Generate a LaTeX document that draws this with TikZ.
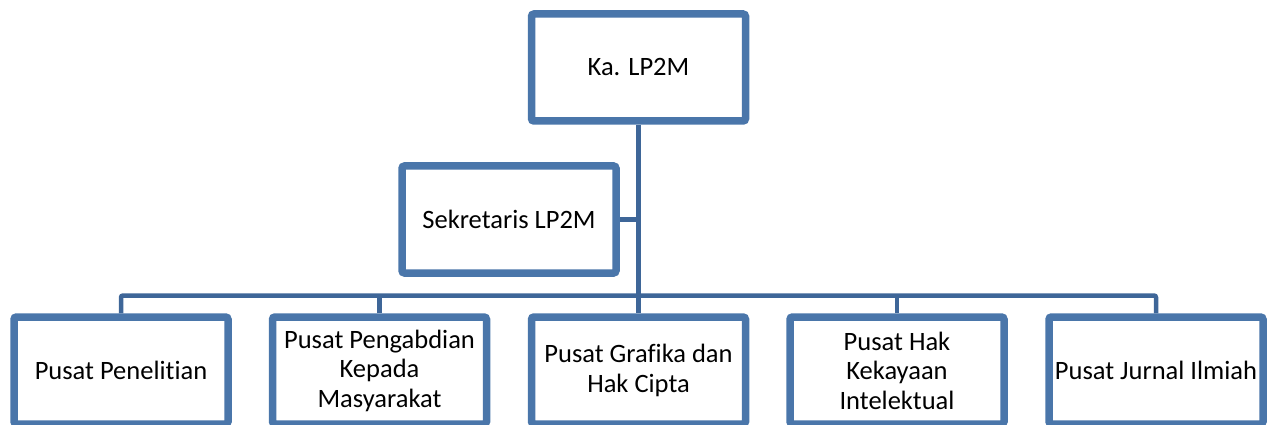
\documentclass[tikz,border=0pt]{standalone}
\usepackage{fontspec}
\setmainfont{Carlito}[Ligatures=NoCommon]
\usetikzlibrary{shadows,backgrounds}
\definecolor{boxblue}{RGB}{74,118,170}
\definecolor{linkblue}{RGB}{62,102,152}
\begin{document}
\begin{tikzpicture}[x=1pt,y=-1pt,
  orgbox/.style={draw=boxblue, line width=7.5pt, fill=white, rounded corners=2.5pt,
    minimum width=214pt, minimum height=107pt, inner sep=0pt, align=center,
    font=\fontsize{26.5}{29.5}\selectfont,
    drop shadow={shadow xshift=2pt, shadow yshift=-2.5pt, opacity=0.22, fill=black}},
  link/.style={draw=linkblue, line width=4.5pt}]
\useasboundingbox (0,0) rectangle (1267,425);
\clip (0,0) rectangle (1267,425);
\node[orgbox] (ka) at (638.5,67.5) {Ka. LP2M};
\node[orgbox] (sek) at (509,219.5) {Sekretaris LP2M};
\node[orgbox] (p1) at (121,370.5) {Pusat Penelitian};
\node[orgbox] (p2) at (379.5,370.5) {Pusat Pengabdian\\Kepada\\Masyarakat};
\node[orgbox] (p3) at (638.5,370.5) {Pusat Grafika dan\\Hak Cipta};
\node[orgbox] (p4) at (897,370.5) {Pusat Hak\\Kekayaan\\Intelektual};
\node[orgbox] (p5) at (1156,370.5) {Pusat Jurnal Ilmiah};
\coordinate (bar) at (638.5,295.5);
\begin{scope}[on background layer]
\draw[link] (ka.south) -- (p3.north);
\draw[link] (sek.east) -- (sek.east -| ka.south);
\draw[link, rounded corners=2pt] (p1.north) -- (p1.north |- bar) -- (p5.north |- bar) -- (p5.north);
\draw[link] (p2.north) -- (p2.north |- bar);
\draw[link] (p4.north) -- (p4.north |- bar);
\end{scope}
\end{tikzpicture}
\end{document}
